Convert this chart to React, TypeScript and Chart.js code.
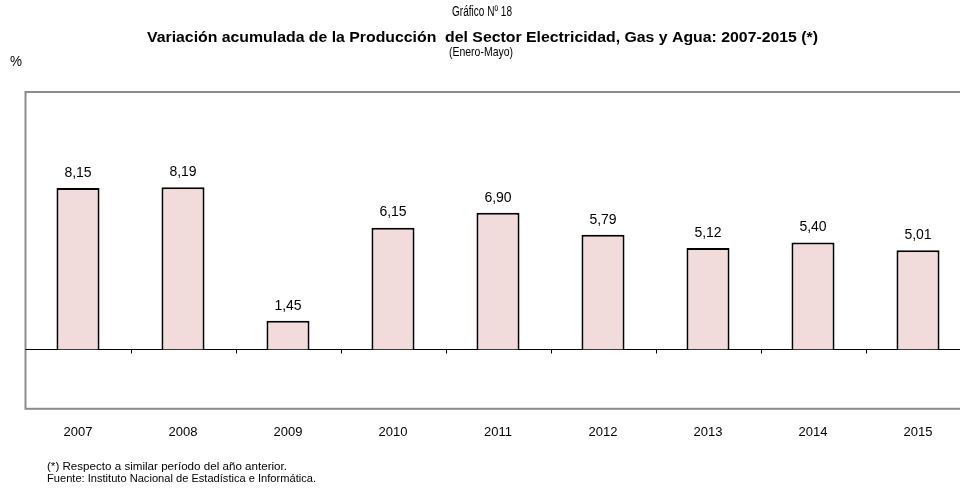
import React, { useEffect, useRef } from "react";
import { Chart, registerables } from "chart.js";

Chart.register(...registerables);

const categories = ["2007", "2008", "2009", "2010", "2011", "2012", "2013", "2014", "2015"];
const values = [8.15, 8.19, 1.45, 6.15, 6.9, 5.79, 5.12, 5.4, 5.01];
const valueLabels = ["8,15", "8,19", "1,45", "6,15", "6,90", "5,79", "5,12", "5,40", "5,01"];
const titleTop = "Gráfico Nº 18";
const titleMain = "Variación acumulada de la Producción  del Sector Electricidad, Gas y Agua: 2007-2015 (*)";
const titleSub = "(Enero-Mayo)";
const unitLabel = "%";
const footNote1 = "(*) Respecto a similar período del año anterior.";
const footNote2 = "Fuente: Instituto Nacional de Estadística e Informática.";

const NARROW = "'Liberation Sans Narrow', 'Liberation Sans', Arial, sans-serif";
const SANS = "'Liberation Sans', Arial, sans-serif";

function fitText(
  ctx: CanvasRenderingContext2D,
  text: string,
  x: number,
  y: number,
  font: string,
  width: number,
  align: "left" | "center"
) {
  ctx.save();
  ctx.font = font;
  const w = ctx.measureText(text).width;
  ctx.translate(x, y);
  ctx.scale(width / w, 1);
  ctx.textAlign = align;
  ctx.textBaseline = "middle";
  ctx.fillStyle = "#000";
  ctx.fillText(text, 0, 0);
  ctx.restore();
}

const decorPlugin = {
  id: "decor",
  beforeDatasetsDraw(chart: any) {
    const ctx = chart.ctx as CanvasRenderingContext2D;
    const a = chart.chartArea;
    const y = chart.scales.y;
    const x = chart.scales.x;
    ctx.save();
    // box
    ctx.strokeStyle = "#8c8c8c";
    ctx.lineWidth = 2;
    ctx.strokeRect(a.left, a.top, a.right - a.left, a.bottom - a.top);
    // zero line
    const y0 = Math.round(y.getPixelForValue(0)) + 0.5;
    ctx.strokeStyle = "#000";
    ctx.lineWidth = 1;
    ctx.beginPath();
    ctx.moveTo(a.left, y0);
    ctx.lineTo(a.right, y0);
    const n = categories.length;
    const step = (a.right - a.left) / n;
    for (let i = 1; i < n; i++) {
      const tx = Math.round(x.getPixelForValue(i) - step / 2) + 0.5;
      ctx.moveTo(tx, y0);
      ctx.lineTo(tx, y0 + 4);
    }
    ctx.stroke();
    ctx.restore();
  },
  afterDatasetsDraw(chart: any) {
    const ctx = chart.ctx as CanvasRenderingContext2D;
    const meta = chart.getDatasetMeta(0);
    ctx.save();
    ctx.font = "14px " + SANS;
    ctx.fillStyle = "#000";
    ctx.textAlign = "center";
    ctx.textBaseline = "middle";
    meta.data.forEach((bar: any, i: number) => {
      ctx.fillText(valueLabels[i], bar.x, bar.y - 15);
    });
    ctx.restore();
  },
  afterDraw(chart: any) {
    const ctx = chart.ctx as CanvasRenderingContext2D;
    fitText(ctx, titleTop, 482, 12, "14px " + NARROW, 60, "center");
    fitText(ctx, titleMain, 482.5, 38, "bold 15px " + NARROW, 671, "center");
    fitText(ctx, titleSub, 481, 52, "13px " + NARROW, 64, "center");
    fitText(ctx, unitLabel, 10, 62, "14px " + SANS, 12, "left");
    fitText(ctx, footNote1, 47, 467, "11px " + NARROW, 240, "left");
    fitText(ctx, footNote2, 47, 479, "11px " + NARROW, 269, "left");
  },
};

export default function App() {
  const ref = useRef<HTMLCanvasElement | null>(null);
  useEffect(() => {
    if (!ref.current) return;
    const chart = new Chart(ref.current, {
      type: "bar",
      data: {
        labels: categories,
        datasets: [
          {
            data: values,
            backgroundColor: "#F2DCDB",
            borderColor: "#000000",
            borderWidth: 2,
            categoryPercentage: 1,
            barPercentage: 0.41,
          },
        ],
      },
      options: {
        responsive: false,
        animation: false,
        layout: { padding: { left: 25.5, right: 9.5, top: 92, bottom: 31.6 } },
        plugins: { legend: { display: false }, tooltip: { enabled: false }, title: { display: false } },
        scales: {
          x: {
            grid: { display: false, drawTicks: false },
            border: { display: false },
            ticks: { color: "#000", font: { family: SANS, size: 13 }, padding: 16, maxRotation: 0 },
          },
          y: { display: false, min: -3, max: 13 },
        },
      },
      plugins: [decorPlugin],
    });
    return () => chart.destroy();
  }, []);
  return (
    <div style={{ position: "fixed", left: 0, top: 0, width: 960, height: 488, overflow: "hidden", background: "#fff" }}>
      <canvas ref={ref} width={980} height={488} style={{ width: 980, height: 488, display: "block" }} />
    </div>
  );
}
